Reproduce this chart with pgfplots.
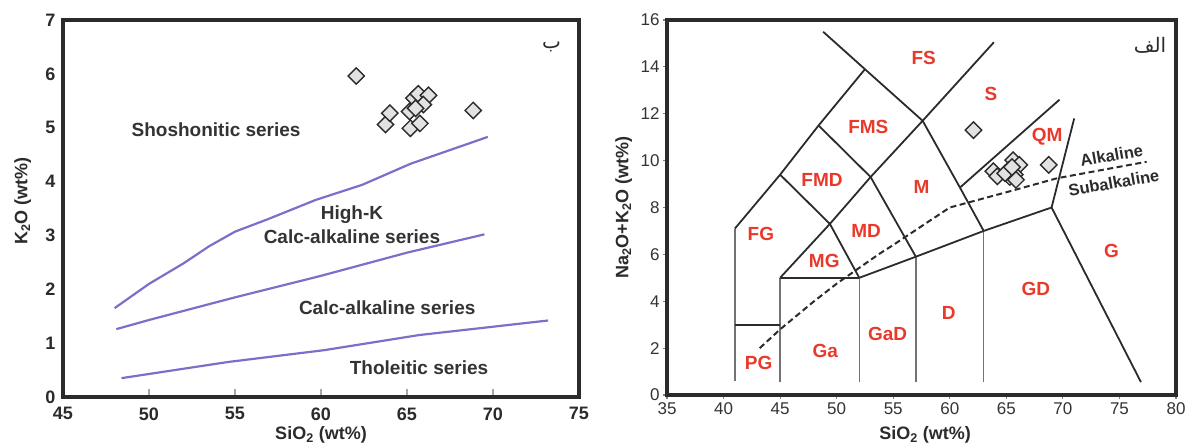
\documentclass[border=0pt]{standalone}
\usepackage{pgfplots}
\pgfplotsset{compat=1.18}
\usepackage{fontspec}
\setmainfont{Liberation Sans}
\newfontfamily\arabicfont[Script=Arabic]{DejaVu Sans}
\TeXXeTstate=1
\definecolor{frame}{HTML}{2B2B2B}
\definecolor{purp}{HTML}{7B70C9}
\definecolor{lbl}{HTML}{E8392B}
\definecolor{mkfill}{HTML}{E2E2E2}
\definecolor{txt}{HTML}{333333}

\begin{document}
\begin{tikzpicture}
\useasboundingbox (0,0) rectangle (1186pt,446pt);
% ---------------- left chart ----------------
\begin{axis}[
  at={(63pt,49pt)}, anchor=south west, scale only axis,
  width=516pt, height=377pt,
  xmin=45, xmax=75, ymin=0, ymax=7,
  xtick={45,50,...,75}, ytick={0,1,...,7},
  axis line style={line width=4pt, color=frame},
  tick pos=left, tick align=inside,
  x tick style={color=gray!70, line width=1.2pt}, major tick length=8pt,
  y tick style={draw=none},
  /pgf/number format/assume math mode=true,
  ticklabel style={font=\fontsize{18}{18}\selectfont\bfseries, text=frame},
  xticklabel style={yshift=-7pt},
  yticklabel style={xshift=-4pt},
  xlabel={SiO\textsubscript{2} (wt\%)}, ylabel={K\textsubscript{2}O (wt\%)},
  label style={font=\fontsize{18}{18}\selectfont\bfseries, text=frame},
  xlabel style={at={(axis description cs:0.5,-0.1)}, anchor=center},
  ylabel style={at={(axis description cs:-0.078,0.52)}, anchor=center},
  clip=false,
]
\addplot[purp, line width=2.2pt] coordinates {(48,1.65) (50,2.1) (52,2.48) (53.5,2.8) (55,3.07) (56.9,3.3) (59.7,3.66) (62.4,3.94) (65.2,4.33) (69.7,4.83)};
\addplot[purp, line width=2.2pt] coordinates {(48.1,1.26) (50,1.43) (55,1.85) (60,2.25) (65,2.68) (69.5,3.02)};
\addplot[purp, line width=2.2pt] coordinates {(48.4,0.35) (54.6,0.65) (60.2,0.87) (65.7,1.15) (73.2,1.42)};
\addplot[only marks, mark=square*, mark size=5.8pt,
  mark options={rotate=45, fill=mkfill, draw=frame, line width=1.4pt}]
  coordinates {(62.05,5.96) (68.85,5.32) (63.75,5.06) (64.0,5.27) (65.2,4.99) (65.75,5.08)
  (65.15,5.3) (65.4,5.55) (65.65,5.63) (66.25,5.6) (65.95,5.43) (65.5,5.36)};
\node[font=\fontsize{19}{19}\selectfont\bfseries, text=txt] at (axis cs:53.9,4.96) {Shoshonitic series};
\node[font=\fontsize{19}{19}\selectfont\bfseries, text=txt] at (axis cs:61.8,3.38) {High-K};
\node[font=\fontsize{19}{19}\selectfont\bfseries, text=txt] at (axis cs:61.8,2.97) {Calc-alkaline series};
\node[font=\fontsize{19}{19}\selectfont\bfseries, text=txt] at (axis cs:63.85,1.65) {Calc-alkaline series};
\node[font=\fontsize{19}{19}\selectfont\bfseries, text=txt] at (axis cs:65.7,0.54) {Tholeitic series};
\node[font=\arabicfont\fontsize{20}{20}\selectfont, text=frame] at (axis cs:73.4,6.5) {\beginR ب\endR};
\end{axis}
% ---------------- right chart ----------------
\begin{axis}[
  at={(667pt,51pt)}, anchor=south west, scale only axis,
  width=509pt, height=375pt,
  xmin=35, xmax=80, ymin=0, ymax=16,
  xtick={35,40,...,80}, ytick={0,2,...,16},
  axis line style={line width=4pt, color=frame},
  tick pos=left, tick align=outside,
  tick style={color=gray, line width=1.2pt}, major tick length=4pt,
  /pgf/number format/assume math mode=true,
  ticklabel style={font=\fontsize{17}{17}\selectfont, text=txt},
  xlabel={SiO\textsubscript{2} (wt\%)}, ylabel={Na\textsubscript{2}O+K\textsubscript{2}O (wt\%)},
  label style={font=\fontsize{18}{18}\selectfont\bfseries, text=frame},
  xlabel style={at={(axis description cs:0.507,-0.107)}, anchor=center},
  ylabel style={at={(axis description cs:-0.085,0.5)}, anchor=center},
  clip=false,
]
% gray verticals
\addplot[gray!90!black, line width=1.5pt] coordinates {(41,0.6) (41,7.1)};
\addplot[gray!90!black, line width=1.5pt] coordinates {(45,0.55) (45,5)};
\addplot[gray!90!black, line width=1.5pt] coordinates {(52,0.55) (52,5)};
\addplot[gray!90!black, line width=1.5pt] coordinates {(57,0.55) (57,5.9)};
\addplot[gray!90!black, line width=1.5pt] coordinates {(63,0.55) (63,7)};
% black boundaries
\addplot[frame, line width=1.8pt] coordinates {(41,7.1) (45,9.4) (48.4,11.5) (52.5,13.9)};
\addplot[frame, line width=1.8pt] coordinates {(48.8,15.5) (52.5,13.9) (57.6,11.7) (60.9,8.85) (63,7)};
\addplot[frame, line width=1.8pt] coordinates {(45,5) (49.4,7.3) (53,9.3) (57.6,11.7) (63.9,15.05)};
\addplot[frame, line width=1.8pt] coordinates {(48.4,11.5) (53,9.3) (57,5.9)};
\addplot[frame, line width=1.8pt] coordinates {(45,9.4) (49.4,7.3) (52,5)};
\addplot[frame, line width=1.8pt] coordinates {(45,5) (52,5)};
\addplot[frame, line width=1.8pt] coordinates {(52,5) (57,5.9) (63,7) (69,8) (76.9,0.55)};
\addplot[frame, line width=1.8pt] coordinates {(69,8) (71,11.8)};
\addplot[frame, line width=1.8pt] coordinates {(60.9,8.85) (69.7,12.6)};
\addplot[frame, line width=1.8pt] coordinates {(41,3) (45,3)};
% alkaline / subalkaline
\addplot[frame, line width=2pt, dash pattern=on 6pt off 3.5pt] coordinates {(43.2,2) (45,2.8) (48,4) (50,4.75) (53.7,6) (55,6.4) (60,8) (65,8.65) (69.5,9.25) (77.4,9.95)};
\addplot[only marks, mark=square*, mark size=5.8pt,
  mark options={rotate=45, fill=mkfill, draw=frame, line width=1.4pt}]
  coordinates {(62.1,11.3) (68.75,9.82) (63.85,9.55) (64.2,9.33) (65.6,10.02) (66.15,9.82)
  (65.2,9.6) (65.3,9.3) (65.75,9.4) (64.9,9.46) (65.85,9.18) (65.5,9.72)};
\node[font=\fontsize{16.5}{16.5}\selectfont\bfseries, text=frame, rotate=10, inner sep=0.5pt] at (axis cs:74.3,10.22) {Alkaline};
\node[font=\fontsize{16.5}{16.5}\selectfont\bfseries, text=frame, rotate=10, inner sep=0.5pt] at (axis cs:74.5,9.05) {Subalkaline};
\begin{scope}[every node/.style={font=\fontsize{19}{19}\selectfont\bfseries, text=lbl}]
\node at (axis cs:57.7,14.4) {FS};
\node at (axis cs:63.65,12.85) {S};
\node at (axis cs:52.8,11.43) {FMS};
\node at (axis cs:68.6,11.0) {QM};
\node at (axis cs:48.7,9.19) {FMD};
\node at (axis cs:57.5,8.88) {M};
\node at (axis cs:43.3,6.88) {FG};
\node at (axis cs:52.6,6.99) {MD};
\node at (axis cs:48.9,5.72) {MG};
\node at (axis cs:74.3,6.14) {G};
\node at (axis cs:67.6,4.54) {GD};
\node at (axis cs:59.9,3.52) {D};
\node at (axis cs:54.5,2.62) {GaD};
\node at (axis cs:49.0,1.89) {Ga};
\node at (axis cs:43.1,1.35) {PG};
\end{scope}
\node[font=\arabicfont\fontsize{20}{20}\selectfont, text=frame] at (axis cs:77.7,14.9) {\beginR الف\endR};
\end{axis}
\end{tikzpicture}
\end{document}
